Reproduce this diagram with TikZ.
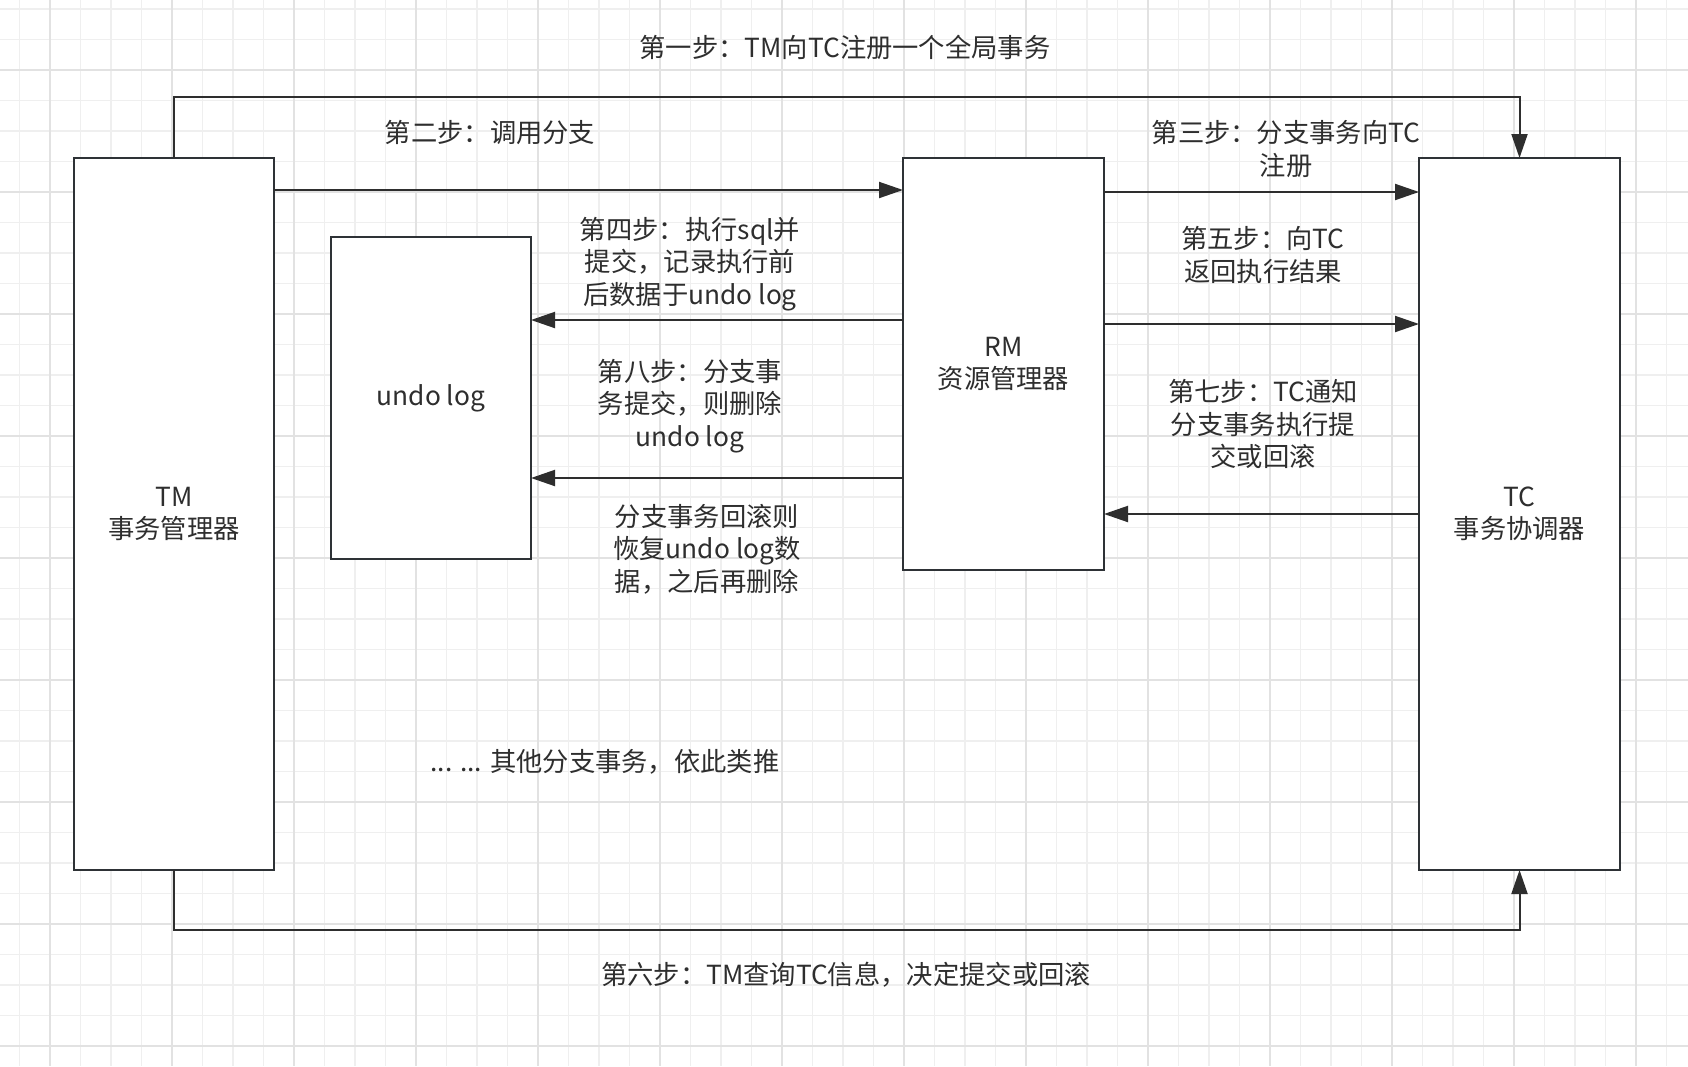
\documentclass[tikz,border=0pt]{standalone}
\usepackage{fontspec}
\setmainfont{Noto Sans CJK SC}
\usetikzlibrary{arrows.meta,calc}
\definecolor{gridminor}{HTML}{EFEFEF}
\definecolor{gridmajor}{HTML}{E2E2E2}
\definecolor{ink}{HTML}{2E2E2E}
\definecolor{boxline}{HTML}{2E3236}
\tikzset{
  box/.style={draw=boxline, line width=2pt, fill=white, inner sep=0pt, outer sep=0pt, text=ink, align=center,
    font=\fontsize{26.3}{32.5}\selectfont},
  lbl/.style={text=ink, align=center, inner sep=0pt, font=\fontsize{26.3}{32.5}\selectfont},
  arr/.style={draw=ink, line width=2pt, -{Triangle[length=24pt,width=16pt]}},
}
\begin{document}
\begin{tikzpicture}[x=1pt,y=-1pt]
\useasboundingbox (0,0) rectangle (1688,1066);
\fill[white] (0,0) rectangle (1688,1066);
% grid
\foreach \i in {-1,...,54} { \draw[gridminor, line width=1.6pt] ({50+30.5*\i},0) -- ({50+30.5*\i},1066); }
\foreach \i in {-2,...,32} { \draw[gridminor, line width=1.6pt] (0,{70+30.5*\i}) -- (1688,{70+30.5*\i}); }
\foreach \i in {0,...,13} { \draw[gridmajor, line width=2pt] ({50+122*\i},0) -- ({50+122*\i},1066); }
\foreach \i in {0,...,8} { \draw[gridmajor, line width=2pt] (0,{70+122*\i}) -- (1688,{70+122*\i}); }

% boxes
\node[box, minimum width=200pt, minimum height=712pt] (tm) at (174,514) {TM\\事务管理器};
\node[box, minimum width=201pt, minimum height=712pt] (tc) at (1519.5,514) {TC\\事务协调器};
\node[box, minimum width=201pt, minimum height=412pt] (rm) at (1003.5,364) {RM\\资源管理器};
\node[box, minimum width=200pt, minimum height=322pt] (undo) at (431,398) {undo log};

% level coordinates
\coordinate (t1) at (174,97);
\coordinate (b6) at (174,930);
\coordinate (y2) at (0,190);
\coordinate (y3) at (0,192);
\coordinate (y4) at (0,320);
\coordinate (y5) at (0,324);
\coordinate (y8) at (0,478);
\coordinate (y7) at (0,514);

% connectors
\draw[arr] (tm.north) -- (t1) -| (tc.north);
\draw[arr] (tm.east |- y2) -- (rm.west |- y2);
\draw[arr] (rm.east |- y3) -- (tc.west |- y3);
\draw[arr] (rm.west |- y4) -- (undo.east |- y4);
\draw[arr] (rm.east |- y5) -- (tc.west |- y5);
\draw[arr] (rm.west |- y8) -- (undo.east |- y8);
\draw[arr] (tc.west |- y7) -- (rm.east |- y7);
\draw[arr] (tm.south) -- (b6) -| (tc.south);

% labels
\node[lbl] (l1) at (845,47) {第一步：TM向TC注册一个全局事务};
\node[lbl] (l2) at (490,133) {第二步：调用分支};
\node[lbl] (l3) at (1286,149) {第三步：分支事务向TC\\注册};
\node[lbl] (l4) at (690,264) {第四步：执行sql并\\提交，记录执行前\\后数据于undo log};
\node[lbl] (l5) at (1263,255) {第五步：向TC\\返回执行结果};
\node[lbl] (l7) at (1263,424) {第七步：TC通知\\分支事务执行提\\交或回滚};
\node[lbl] (l8) at (690,406) {第八步：分支事\\务提交，则删除\\undo log};
\node[lbl] (l8b) at (707,549) {分支事务回滚则\\恢复undo log数\\据，之后再删除};
\node[lbl] (l9) at (605,762) {... ... 其他分支事务，依此类推};
\node[lbl] (l6) at (846,975) {第六步：TM查询TC信息，决定提交或回滚};
\end{tikzpicture}
\end{document}
